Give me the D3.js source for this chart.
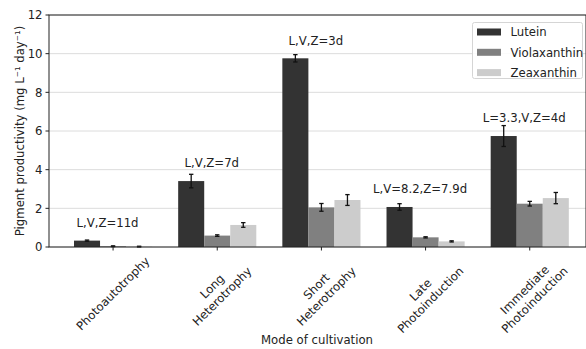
<!DOCTYPE html>
<html><head><meta charset="utf-8">
<script src="https://cdn.jsdelivr.net/npm/d3@7"></script>
<style>body{margin:0;background:#fff}svg{display:block}text{font-family:"DejaVu Sans",sans-serif}</style>
</head><body>
<svg id="c" width="586" height="349"></svg>
<script>
const categories = ["Photoautotrophy","Long\nHeterotrophy","Short\nHeterotrophy","Late\nPhotoinduction","Immediate\nPhotoinduction"];
const seriesNames = ["Lutein","Violaxanthin","Zeaxanthin"];
const lutein = [0.33, 3.41, 9.76, 2.07, 5.74];
const luteinErr = [0.03, 0.35, 0.19, 0.17, 0.54];
const violaxanthin = [0.04, 0.59, 2.05, 0.50, 2.24];
const violaxanthinErr = [0.02, 0.04, 0.20, 0.03, 0.12];
const zeaxanthin = [0.02, 1.14, 2.43, 0.29, 2.53];
const zeaxanthinErr = [0.02, 0.12, 0.28, 0.03, 0.29];
const annotations = ["L,V,Z=11d","L,V,Z=7d","L,V,Z=3d","L,V=8.2,Z=7.9d","L=3.3,V,Z=4d"];
const yTicks = [0,2,4,6,8,10,12];
const colors = ["#333333","#808080","#cccccc"];

const values = [lutein, violaxanthin, zeaxanthin];
const errs = [luteinErr, violaxanthinErr, zeaxanthinErr];

const svg = d3.select("#c");
const fs = 11.7;
const L = 49, R = 586, T = 15, B = 247;
const x = d3.scaleLinear().domain([-0.615, 4.54]).range([L, R]);
const y = d3.scaleLinear().domain([0, 12]).range([B, T]);
const bw = 0.25;

// grid
svg.append("g").selectAll("line").data(yTicks).join("line")
  .attr("x1", L).attr("x2", R).attr("y1", d => y(d)).attr("y2", d => y(d))
  .attr("stroke", "#dcdcdc").attr("stroke-width", 1);

// bars
values.forEach((vals, s) => {
  const off = (s - 1) * bw;
  svg.append("g").selectAll("rect").data(vals).join("rect")
    .attr("x", (d, i) => x(i + off - bw / 2))
    .attr("width", x(bw) - x(0))
    .attr("y", d => y(d))
    .attr("height", d => y(0) - y(d))
    .attr("fill", colors[s]);
  const g = svg.append("g").attr("stroke", "#111").attr("stroke-width", 1.3);
  vals.forEach((d, i) => {
    const cx = x(i + off), e = errs[s][i];
    g.append("line").attr("x1", cx).attr("x2", cx).attr("y1", y(d - e)).attr("y2", y(d + e));
    g.append("line").attr("x1", cx - 2.2).attr("x2", cx + 2.2).attr("y1", y(d - e)).attr("y2", y(d - e));
    g.append("line").attr("x1", cx - 2.2).attr("x2", cx + 2.2).attr("y1", y(d + e)).attr("y2", y(d + e));
  });
});

// annotations
svg.append("g").selectAll("text").data(annotations).join("text")
  .attr("x", (d, i) => x(i - 0.053))
  .attr("y", (d, i) => y(lutein[i]) - 18)
  .attr("dy", "0.36em")
  .attr("text-anchor", "middle").attr("font-size", fs).attr("fill", "#222")
  .text(d => d);

// frame
const frame = svg.append("g").attr("stroke", "#222").attr("stroke-width", 1).attr("fill", "none");
frame.append("rect").attr("x", L).attr("y", T).attr("width", R - L).attr("height", B - T);

// y ticks
const yg = svg.append("g");
yTicks.forEach(t => {
  yg.append("line").attr("x1", L - 3.5).attr("x2", L).attr("y1", y(t)).attr("y2", y(t)).attr("stroke", "#222");
  yg.append("text").attr("x", L - 6.5).attr("y", y(t)).attr("dy", "0.36em")
    .attr("text-anchor", "end").attr("font-size", fs).attr("fill", "#222").text(t);
});

// x ticks and rotated labels
categories.forEach((c, i) => {
  const cx = x(i);
  svg.append("line").attr("x1", cx).attr("x2", cx).attr("y1", B).attr("y2", B + 3.5).attr("stroke", "#222");
  const outer = svg.append("g");
  const inner = outer.append("g").attr("transform", "rotate(-45)");
  const lines = c.split("\n");
  const t = inner.append("text").attr("text-anchor", "middle").attr("font-size", fs).attr("fill", "#222");
  lines.forEach((ln, k) => {
    t.append("tspan").attr("x", 0).attr("dy", k === 0 ? 0 : "1.2em").text(ln);
  });
  const bb = outer.node().getBoundingClientRect();
  const svgbb = svg.node().getBoundingClientRect();
  const cxb = bb.left - svgbb.left + bb.width / 2;
  const top = bb.top - svgbb.top;
  outer.attr("transform", `translate(${cx - cxb},${B + 7 - top})`);
});

// axis labels
svg.append("text").attr("x", 317).attr("y", 340).attr("dy", "0.36em").attr("text-anchor", "middle")
  .attr("font-size", fs).attr("fill", "#222").text("Mode of cultivation");
svg.append("text").attr("transform", `translate(20,${(T + B) / 2}) rotate(-90)`).attr("dy", "0.36em")
  .attr("text-anchor", "middle").attr("font-size", fs).attr("fill", "#222")
  .text("Pigment productivity (mg L\u207B\u00B9 day\u207B\u00B9)");

// legend
const lg = svg.append("g");
lg.append("rect").attr("x", 472.5).attr("y", 22.5).attr("width", 110).attr("height", 56)
  .attr("rx", 2).attr("fill", "#fff").attr("fill-opacity", 0.85).attr("stroke", "#d5d5d5");
seriesNames.forEach((n, k) => {
  const cy = 32 + k * 20.3;
  lg.append("rect").attr("x", 477).attr("y", cy - 3.5).attr("width", 24).attr("height", 7).attr("fill", colors[k]);
  lg.append("text").attr("x", 510.5).attr("y", cy).attr("dy", "0.36em").attr("font-size", fs).attr("fill", "#222").text(n);
});
</script>
</body></html>
